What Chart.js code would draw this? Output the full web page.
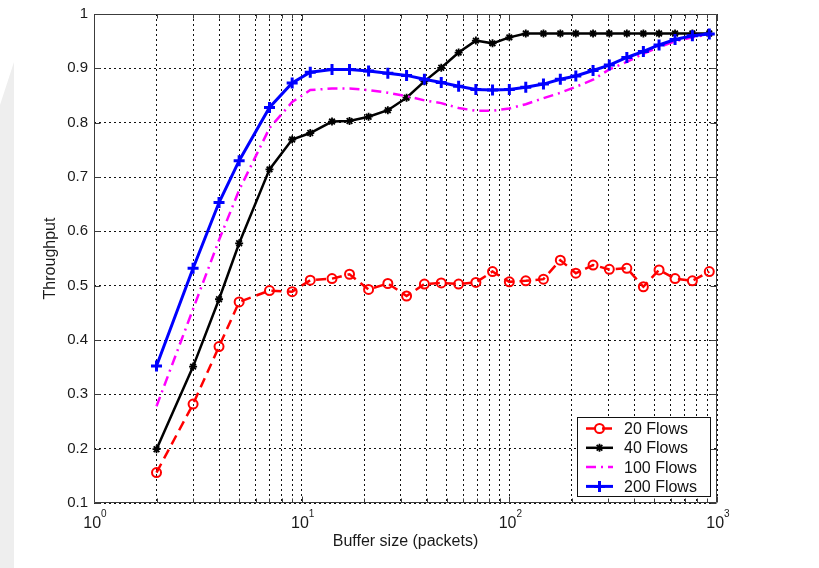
<!DOCTYPE html>
<html lang="en">
<head>
    <meta charset="UTF-8">
    <title>Throughput vs buffer size</title>
    <script src="https://cdn.jsdelivr.net/npm/chart.js"></script>
    <style>
        html, body { margin: 0; padding: 0; background: #fff; }
        #wrap { position: relative; width: 819px; height: 568px; }
        #band { position: absolute; left: 0; top: 0; width: 14px; height: 568px; background: #eeeeee;
                clip-path: polygon(0 105px, 14px 62px, 14px 568px, 0 568px); }
        canvas { position: relative; }
    </style>
</head>
<body>
<div id="wrap">
    <div id="band"></div>
    <canvas id="throughput_chart" width="819" height="568"></canvas>
</div>
<script>
// buffer sizes (packets) shared by all series
const bufferSizes = [2, 3, 4, 5, 7, 9, 11, 14, 17, 21, 26, 32, 39, 47, 57, 69, 83, 100,
                     120, 146, 176, 209, 253, 303, 368, 442, 526, 628, 761, 918];

const flows20 = [0.156, 0.282, 0.388, 0.470, 0.491, 0.489, 0.510, 0.513, 0.521, 0.493, 0.504, 0.481,
                 0.503, 0.505, 0.503, 0.506, 0.526, 0.507, 0.509, 0.512, 0.547, 0.523, 0.538, 0.530,
                 0.532, 0.498, 0.529, 0.513, 0.509, 0.526];
const flows40 = [0.199, 0.351, 0.475, 0.578, 0.714, 0.769, 0.781, 0.802, 0.803, 0.811, 0.823, 0.846,
                 0.876, 0.901, 0.929, 0.951, 0.946, 0.957, 0.964, 0.964, 0.964, 0.964, 0.964, 0.964,
                 0.964, 0.964, 0.964, 0.964, 0.964, 0.964];
const flows100 = [0.278, 0.457, 0.584, 0.676, 0.790, 0.838, 0.860, 0.863, 0.863, 0.860, 0.855, 0.849,
                  0.841, 0.836, 0.827, 0.822, 0.822, 0.826, 0.834, 0.845, 0.855, 0.866, 0.879, 0.898,
                  0.912, 0.927, 0.939, 0.950, 0.957, 0.963];
const flows200 = [0.352, 0.532, 0.653, 0.730, 0.828, 0.873, 0.893, 0.898, 0.898, 0.895, 0.891, 0.887,
                  0.880, 0.874, 0.867, 0.861, 0.860, 0.861, 0.865, 0.871, 0.880, 0.886, 0.896, 0.906,
                  0.920, 0.931, 0.943, 0.953, 0.960, 0.963];

const seriesNames = ['20 Flows', '40 Flows', '100 Flows', '200 Flows'];

// x tick labels are 10^k, drawn as base + raised exponent
const xMajorTicks = [1, 10, 100, 1000];
const xTickBase = ['10', '10', '10', '10'];
const xTickExp = ['0', '1', '2', '3'];
const xMinorTicks = [2, 3, 4, 5, 6, 7, 8, 9, 20, 30, 40, 50, 60, 70, 80, 90,
                     200, 300, 400, 500, 600, 700, 800, 900];
const yTicks = [0.1, 0.2, 0.3, 0.4, 0.5, 0.6, 0.7, 0.8, 0.9, 1];
const yTickLabels = ['0.1', '0.2', '0.3', '0.4', '0.5', '0.6', '0.7', '0.8', '0.9', '1'];

const FONT = '"Liberation Sans", Arial, Helvetica, sans-serif';

function points(values) {
    return bufferSizes.map((b, i) => ({x: b, y: values[i]}));
}

// small marker drawer used by the legend
function drawMarker(ctx, style, r, x, y) {
    ctx.beginPath();
    if (style === 'circle') {
        ctx.arc(x, y, r, 0, Math.PI * 2);
    } else {
        ctx.moveTo(x - r, y); ctx.lineTo(x + r, y);
        ctx.moveTo(x, y - r); ctx.lineTo(x, y + r);
        if (style === 'star') {
            const d = r * 0.707;
            ctx.moveTo(x - d, y - d); ctx.lineTo(x + d, y + d);
            ctx.moveTo(x - d, y + d); ctx.lineTo(x + d, y - d);
        }
    }
    ctx.stroke();
}

// box around the axes with matlab-like inward ticks, plus the 10^k labels
const axesBox = {
    id: 'axesBox',
    afterDraw(chart) {
        const {ctx, chartArea: a} = chart;
        const xs = chart.scales.x, ys = chart.scales.y;
        const L = Math.round(a.left) + 0.5, R = Math.round(a.right) - 0.5;
        const T = Math.round(a.top) + 0.5, B = Math.round(a.bottom) - 0.5;
        ctx.save();
        ctx.strokeStyle = '#3c3c3c';
        ctx.lineWidth = 1;
        ctx.beginPath();
        ctx.rect(L, T, R - L, B - T);
        yTicks.forEach(v => {
            const y = Math.round(ys.getPixelForValue(v)) + 0.5;
            ctx.moveTo(L, y); ctx.lineTo(L + 6, y);
            ctx.moveTo(R, y); ctx.lineTo(R - 6, y);
        });
        xMajorTicks.forEach(v => {
            const x = Math.round(xs.getPixelForValue(v)) + 0.5;
            ctx.moveTo(x, B); ctx.lineTo(x, B - 6);
            ctx.moveTo(x, T); ctx.lineTo(x, T + 6);
        });
        xMinorTicks.forEach(v => {
            const x = Math.round(xs.getPixelForValue(v)) + 0.5;
            ctx.moveTo(x, B); ctx.lineTo(x, B - 4);
            ctx.moveTo(x, T); ctx.lineTo(x, T + 4);
        });
        ctx.stroke();

        ctx.fillStyle = '#1a1a1a';
        ctx.textBaseline = 'alphabetic';
        ctx.textAlign = 'left';
        xMajorTicks.forEach((v, i) => {
            const x = xs.getPixelForValue(v);
            ctx.font = '16px ' + FONT;
            const wb = ctx.measureText(xTickBase[i]).width;
            ctx.font = '10px ' + FONT;
            const we = ctx.measureText(xTickExp[i]).width;
            const x0 = x - (wb + we) / 2 + 1;
            ctx.font = '16px ' + FONT;
            ctx.fillText(xTickBase[i], x0, a.bottom + 25);
            ctx.font = '10px ' + FONT;
            ctx.fillText(xTickExp[i], x0 + wb, a.bottom + 14);
        });
        ctx.restore();
    }
};

// legend box in the lower right corner of the axes
const boxLegend = {
    id: 'boxLegend',
    afterDraw(chart) {
        const {ctx, chartArea} = chart;
        const w = 133, h = 79;
        const left = Math.round(chartArea.right - 7 - w), top = Math.round(chartArea.bottom - 7 - h);
        ctx.save();
        ctx.fillStyle = '#fff';
        ctx.fillRect(left, top, w, h);
        ctx.strokeStyle = '#111';
        ctx.lineWidth = 1;
        ctx.strokeRect(left + 0.5, top + 0.5, w, h);
        chart.data.datasets.forEach((ds, i) => {
            const y = top + 11.5 + i * 19.3;
            ctx.strokeStyle = ds.borderColor;
            ctx.lineWidth = ds.borderWidth;
            ctx.setLineDash(ds.borderDash || []);
            ctx.beginPath();
            ctx.moveTo(left + 9, y);
            ctx.lineTo(left + 36, y);
            ctx.stroke();
            ctx.setLineDash([]);
            if (ds.pointRadius > 0) {
                ctx.lineWidth = ds.pointBorderWidth;
                drawMarker(ctx, ds.pointStyle, ds.pointRadius, left + 22.5, y);
            }
            ctx.fillStyle = '#111';
            ctx.font = '16px ' + FONT;
            ctx.textBaseline = 'middle';
            ctx.fillText(ds.label, left + 47, y + 1);
        });
        ctx.restore();
    }
};

const ctx = document.getElementById('throughput_chart').getContext('2d');
new Chart(ctx, {
    type: 'line',
    data: {
        datasets: [{
            label: seriesNames[0],
            data: points(flows20),
            borderColor: '#ff0000',
            borderWidth: 2.5,
            borderDash: [10, 6],
            pointStyle: 'circle',
            pointRadius: 4.5,
            pointBorderWidth: 2,
            pointBorderColor: '#ff0000',
            pointBackgroundColor: 'rgba(0,0,0,0)',
            order: 4
        }, {
            label: seriesNames[1],
            data: points(flows40),
            borderColor: '#000000',
            borderWidth: 2.5,
            pointStyle: 'star',
            pointRadius: 4,
            pointBorderWidth: 1.8,
            pointBorderColor: '#000000',
            pointBackgroundColor: '#000000',
            order: 3
        }, {
            label: seriesNames[2],
            data: points(flows100),
            borderColor: '#ff00ff',
            borderWidth: 2.5,
            borderDash: [10, 5, 2, 5],
            pointRadius: 0,
            order: 2
        }, {
            label: seriesNames[3],
            data: points(flows200),
            borderColor: '#0000ff',
            borderWidth: 3,
            pointStyle: 'cross',
            pointRadius: 5.5,
            pointBorderWidth: 3,
            pointBorderColor: '#0000ff',
            pointBackgroundColor: '#0000ff',
            order: 1
        }]
    },
    options: {
        responsive: false,
        animation: false,
        events: [],
        layout: { padding: { left: 0, right: 102, top: 14, bottom: 0 } },
        elements: { line: { tension: 0 } },
        plugins: {
            legend: { display: false },
            tooltip: { enabled: false }
        },
        scales: {
            x: {
                type: 'logarithmic',
                min: 1,
                max: 1000,
                afterBuildTicks: scale => {
                    scale.ticks = [...xMajorTicks, ...xMinorTicks].sort((a, b) => a - b).map(v => ({value: v}));
                },
                afterFit: scale => {
                    scale.height = 65;
                    scale.paddingLeft = 0;
                    scale.paddingRight = 0;
                },
                grid: { color: '#111', lineWidth: 1, drawTicks: false, tickLength: 0 },
                border: { display: false, dash: [2, 3] },
                ticks: {
                    autoSkip: false,
                    maxRotation: 0,
                    minRotation: 0,
                    padding: 8,
                    font: { family: FONT, size: 16 },
                    // labels are drawn by the axesBox plugin (base + exponent)
                    callback: () => ''
                },
                title: {
                    display: true,
                    text: 'Buffer size (packets)',
                    color: '#1a1a1a',
                    font: { family: FONT, size: 16 },
                    padding: { top: 0, bottom: 17 }
                }
            },
            y: {
                min: 0.1,
                max: 1,
                afterBuildTicks: scale => {
                    scale.ticks = yTicks.map(v => ({value: v}));
                },
                afterFit: scale => {
                    scale.width = 94;
                    scale.paddingTop = 0;
                    scale.paddingBottom = 0;
                },
                grid: { color: '#111', lineWidth: 1, drawTicks: false, tickLength: 0 },
                border: { display: false, dash: [2, 3] },
                ticks: {
                    autoSkip: false,
                    padding: 6,
                    color: '#1a1a1a',
                    font: { family: FONT, size: 15 },
                    callback: (v, i) => yTickLabels[i]
                },
                title: {
                    display: true,
                    text: 'Throughput',
                    color: '#1a1a1a',
                    font: { family: FONT, size: 16 },
                    padding: { top: 41, bottom: 0 }
                }
            }
        }
    },
    plugins: [axesBox, boxLegend]
});
</script>
</body>
</html>
